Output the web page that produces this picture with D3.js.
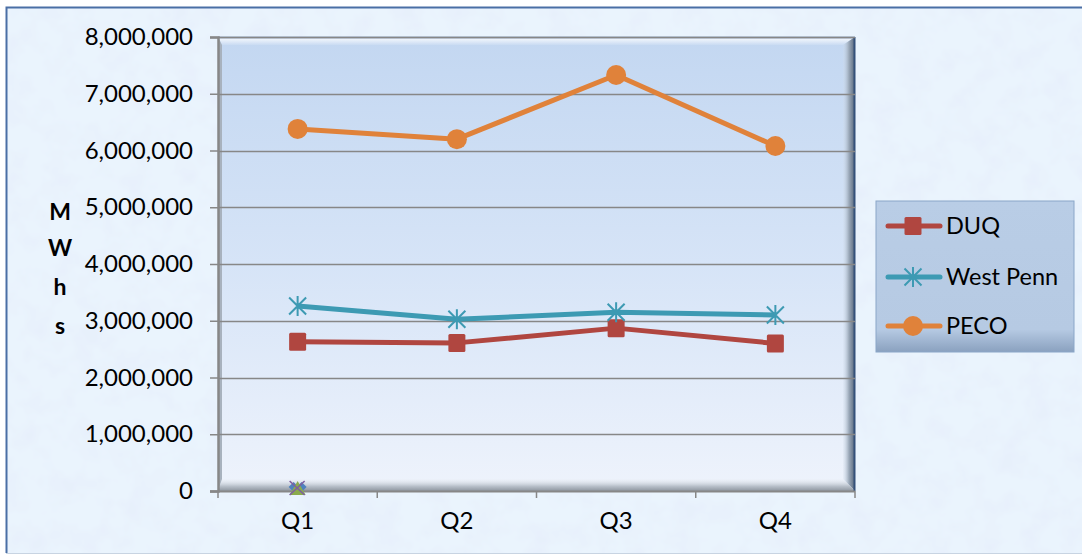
<!DOCTYPE html>
<html><head><meta charset="utf-8">
<script src="https://cdn.jsdelivr.net/npm/d3@7"></script>
<style>html,body{margin:0;padding:0;background:#fff;overflow:hidden}</style>
</head><body>
<svg id="c" width="1082" height="555"></svg>
<script>
const categories = ["Q1","Q2","Q3","Q4"];
const duq = [2630000, 2610000, 2870000, 2600000];
const westPenn = [3260000, 3025000, 3150000, 3100000];
const peco = [6380000, 6200000, 7330000, 6080000];
const hiddenQ1 = [0]; // empty series plotted at Q1
const yTicks = [0,1000000,2000000,3000000,4000000,5000000,6000000,7000000,8000000];
const axisTitle = ["M","W","h","s"];
const seriesNames = ["DUQ","West Penn","PECO"];

const FONT = "Lato, 'Open Sans', sans-serif";
const svg = d3.select("#c");
const W = 1082, H = 555;
const L = 218, R = 855, T = 37, B = 491;

const defs = svg.append("defs");
// texture
const f = defs.append("filter").attr("id","tex").attr("x",0).attr("y",0).attr("width","100%").attr("height","100%");
f.append("feTurbulence").attr("type","fractalNoise").attr("baseFrequency","0.04").attr("numOctaves",3).attr("seed",7).attr("result","n");
f.append("feColorMatrix").attr("in","n").attr("type","matrix")
 .attr("values","0 0 0 0 0.80  0 0 0 0 0.87  0 0 0 0 0.97  2.4 0 0 0 -0.95").attr("result","c");
f.append("feComposite").attr("in","c").attr("in2","SourceGraphic").attr("operator","atop");

const pg = defs.append("linearGradient").attr("id","pg").attr("x1",0).attr("y1",0).attr("x2",0).attr("y2",1);
pg.append("stop").attr("offset","0").attr("stop-color","#c3d7f1");
pg.append("stop").attr("offset","0.5").attr("stop-color","#d6e4f7");
pg.append("stop").attr("offset","1").attr("stop-color","#eef3fc");

const rg = defs.append("linearGradient").attr("id","rg").attr("x1",0).attr("y1",0).attr("x2",1).attr("y2",0);
rg.append("stop").attr("offset","0").attr("stop-color","#d0dcea").attr("stop-opacity",0.2);
rg.append("stop").attr("offset","0.5").attr("stop-color","#9aa8b8");
rg.append("stop").attr("offset","1").attr("stop-color","#55657a");
const bg2 = defs.append("linearGradient").attr("id","bg2").attr("x1",0).attr("y1",0).attr("x2",0).attr("y2",1);
bg2.append("stop").attr("offset","0").attr("stop-color","#e8edf4").attr("stop-opacity",0.2);
bg2.append("stop").attr("offset","0.6").attr("stop-color","#b8c0ca");
bg2.append("stop").attr("offset","1").attr("stop-color","#8e96a0");
const tg = defs.append("linearGradient").attr("id","tg").attr("x1",0).attr("y1",0).attr("x2",0).attr("y2",1);
tg.append("stop").attr("offset","0").attr("stop-color","#ffffff").attr("stop-opacity",0.95);
tg.append("stop").attr("offset","1").attr("stop-color","#ffffff").attr("stop-opacity",0.1);
const lg = defs.append("linearGradient").attr("id","lg").attr("x1",0).attr("y1",0).attr("x2",0).attr("y2",1);
lg.append("stop").attr("offset","0").attr("stop-color","#b9cde6");
lg.append("stop").attr("offset","0.85").attr("stop-color","#b6cae3");
lg.append("stop").attr("offset","1").attr("stop-color","#8aa1bf");

// background
svg.append("rect").attr("x",0).attr("y",0).attr("width",W).attr("height",H).attr("fill","#ffffff");
svg.append("rect").attr("x",6).attr("y",7).attr("width",W-6).attr("height",H-9).attr("fill","#eaf4fd").attr("filter","url(#tex)");
svg.append("path").attr("d",`M${W},7.5 H6.5 V${H-2}`).attr("fill","none").attr("stroke","#4a6fa5").attr("stroke-width",2);
svg.append("line").attr("x1",6).attr("x2",W).attr("y1",H-1.5).attr("y2",H-1.5).attr("stroke","#c8d4e2").attr("stroke-width",1);

const x = d3.scaleBand().domain(categories).range([L,R]);
const y = d3.scaleLinear().domain([0,8000000]).range([B,T]);

// plot area
svg.append("rect").attr("x",L).attr("y",T).attr("width",R-L).attr("height",B-T).attr("fill","url(#pg)");
const bev = 12;
svg.append("polygon").attr("points",`${L},${T} ${R},${T} ${R-bev},${T+8} ${L+4},${T+8}`).attr("fill","url(#tg)");
svg.append("polygon").attr("points",`${R},${T} ${R},${B} ${R-bev},${B-bev} ${R-bev},${T+8}`).attr("fill","url(#rg)");
svg.append("polygon").attr("points",`${L},${B} ${R},${B} ${R-bev},${B-bev} ${L+4},${B-bev}`).attr("fill","url(#bg2)");
svg.append("polygon").attr("points",`${L},${T} ${L+4},${T+8} ${L+4},${B-bev} ${L},${B}`).attr("fill","#a8b2be");
svg.append("line").attr("x1",L).attr("x2",R).attr("y1",T+0.5).attr("y2",T+0.5).attr("stroke","#4a6a96").attr("stroke-width",1.5);
svg.append("line").attr("x1",R-0.5).attr("x2",R-0.5).attr("y1",T).attr("y2",B).attr("stroke","#34517a").attr("stroke-width",2);

// gridlines
svg.append("g").selectAll("line").data(yTicks.filter(d=>d>0)).join("line")
  .attr("x1",L).attr("x2",R).attr("y1",d=>Math.round(y(d))+0.5).attr("y2",d=>Math.round(y(d))+0.5)
  .attr("stroke","#878787").attr("stroke-width",1.5);

// y axis
const ya = svg.append("g").attr("transform",`translate(${L},0)`)
  .call(d3.axisLeft(y).tickValues(yTicks).tickFormat(d3.format(",")).tickSize(8).tickPadding(17));
ya.select(".domain").attr("stroke","#878787").attr("stroke-width",2.5);
ya.selectAll(".tick line").attr("stroke","#878787").attr("stroke-width",1.5);
ya.selectAll("text").attr("font-family",FONT).attr("font-size","24px").attr("fill","#000");

// x axis
const xa = svg.append("g").attr("transform",`translate(0,${B})`)
  .call(d3.axisBottom(x).tickSize(0).tickPadding(21));
xa.select(".domain").remove();
xa.selectAll("text").attr("font-family",FONT).attr("font-size","24px").attr("fill","#000");
svg.append("line").attr("x1",L-8).attr("x2",R).attr("y1",B+0.5).attr("y2",B+0.5).attr("stroke","#878787").attr("stroke-width",2);
const bounds = categories.map(c=>x(c)).concat([R]);
svg.append("g").selectAll("line").data(bounds).join("line")
  .attr("x1",d=>d).attr("x2",d=>d).attr("y1",B).attr("y2",B+7).attr("stroke","#878787").attr("stroke-width",1.5);

// axis title
svg.append("g").selectAll("text").data(axisTitle).join("text")
  .attr("x",60).attr("y",(d,i)=>[220,256,295,334][i]).attr("text-anchor","middle")
  .attr("font-family",FONT).attr("font-weight","bold").attr("font-size","23px").attr("fill","#000").text(d=>d);

const cx = d => x(d) + x.bandwidth()/2;
const series = [
  {name:"DUQ", vals:duq, color:"#b04640", marker:"square"},
  {name:"West Penn", vals:westPenn, color:"#3d9ab3", marker:"star"},
  {name:"PECO", vals:peco, color:"#e0823a", marker:"circle"}
];
const line = d3.line().x((d,i)=>cx(categories[i])).y(d=>y(d));

function drawMarker(g, type, px, py, color){
  if(type==="square"){
    g.append("rect").attr("x",px-8.5).attr("y",py-9).attr("width",17).attr("height",18).attr("rx",1.5).attr("fill",color);
  } else if(type==="circle"){
    g.append("circle").attr("cx",px).attr("cy",py).attr("r",10).attr("fill",color);
  } else if(type==="star"){
    const s = 8.5;
    const p = `M${px-s},${py-s}L${px+s},${py+s}M${px+s},${py-s}L${px-s},${py+s}M${px},${py-s-1.5}L${px},${py+s+1.5}`;
    g.append("path").attr("d",p).attr("stroke",color).attr("stroke-width",2).attr("fill","none");
  }
}

series.forEach(s=>{
  const g = svg.append("g");
  g.append("path").datum(s.vals).attr("d",line).attr("fill","none").attr("stroke",s.color).attr("stroke-width",5).attr("stroke-linejoin","round");
  s.vals.forEach((v,i)=>drawMarker(g,s.marker,cx(categories[i]),y(v),s.color));
});

// empty series markers at Q1
const hx = cx(categories[0]), hy = y(hiddenQ1[0]);
svg.append("path").attr("d",`M${hx-9},${hy-4}L${hx-4},${hy-9}L${hx+1},${hy-4}L${hx-4},${hy+1}Z`).attr("fill","#4f81bd");
svg.append("path").attr("d",`M${hx+9},${hy-4}L${hx+4},${hy-9}L${hx-1},${hy-4}L${hx+4},${hy+1}Z`).attr("fill","#4f81bd");
svg.append("path").attr("d",`M${hx},${hy-10}L${hx+8},${hy+4}L${hx-8},${hy+4}Z`).attr("fill","#8bab4d");
svg.append("path").attr("d",`M${hx-8},${hy-10}L${hx+7},${hy+4}M${hx+7},${hy-10}L${hx-8},${hy+4}`).attr("stroke","#7e5fa0").attr("stroke-width",1.6);

// legend
const lgx = 876, lgy = 201, lgw = 198, lgh = 151;
svg.append("rect").attr("x",lgx).attr("y",lgy).attr("width",lgw).attr("height",lgh).attr("fill","url(#lg)").attr("stroke","#8aa6c8").attr("stroke-width",1);
const ly = [226, 277, 326];
series.forEach((s,i)=>{
  const g = svg.append("g");
  g.append("line").attr("x1",888).attr("x2",940).attr("y1",ly[i]).attr("y2",ly[i]).attr("stroke",s.color).attr("stroke-width",5).attr("stroke-linecap","round");
  drawMarker(g,s.marker,913,ly[i],s.color);
  g.append("text").attr("x",946).attr("y",ly[i]).attr("dy","0.36em").attr("font-family",FONT).attr("font-size","23.5px").attr("fill","#000").text(seriesNames[i]);
});
</script>
</body></html>
